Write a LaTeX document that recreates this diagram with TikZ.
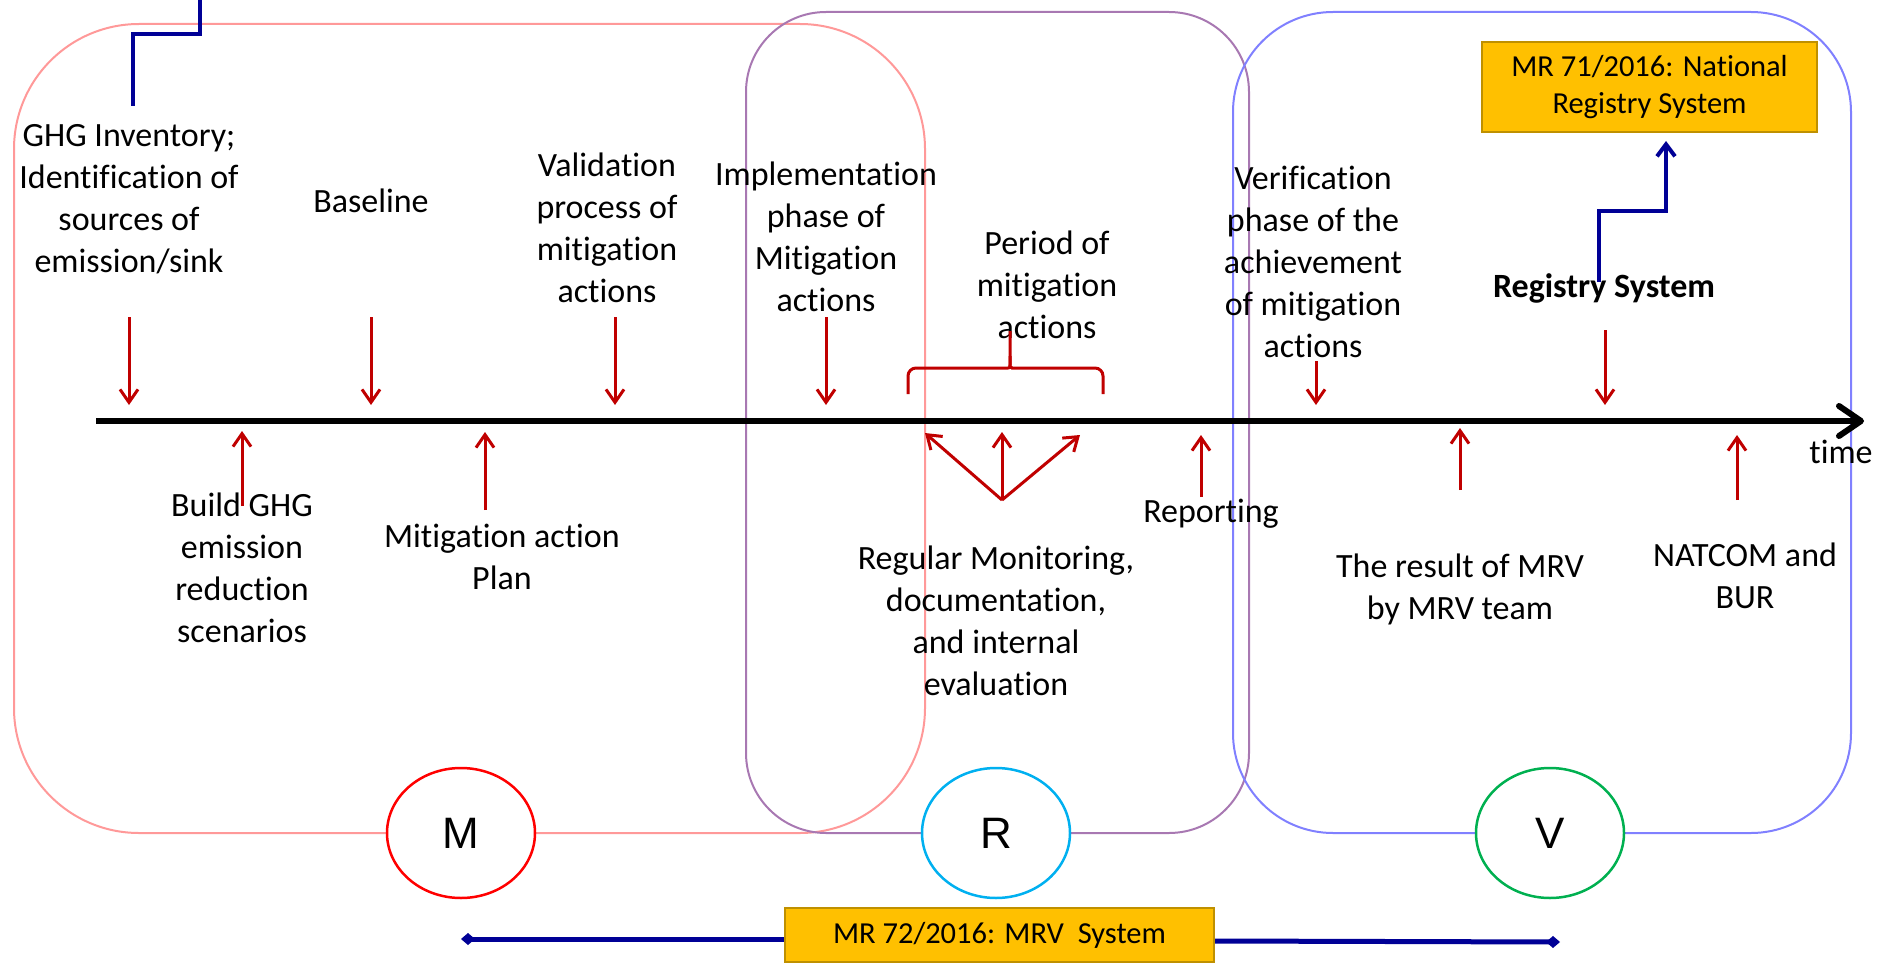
\documentclass[tikz,border=0pt]{standalone}
\usepackage{fontspec}
\setmainfont{Carlito}[RawFeature={-liga;-clig;-calt;-dlig}]
\newfontfamily\letterfont{Liberation Sans}
\usetikzlibrary{arrows.meta,shapes.geometric}

\definecolor{mline}{RGB}{255,153,153}
\definecolor{rline}{RGB}{168,120,178}
\definecolor{vline}{RGB}{128,128,255}
\definecolor{mring}{RGB}{255,0,0}
\definecolor{rring}{RGB}{0,176,240}
\definecolor{vring}{RGB}{0,176,80}
\definecolor{arrowred}{RGB}{192,0,0}
\definecolor{lawnavy}{RGB}{0,0,150}
\definecolor{lawfill}{RGB}{255,192,0}
\definecolor{lawedge}{RGB}{191,144,0}

\begin{document}
\begin{tikzpicture}[x=1pt,y=-1pt,
		every node/.style={inner sep=0pt,align=center,font=\fontsize{34}{42}\selectfont},
		phase/.style={line width=2pt,rounded corners=#1},
		redarrow/.style={draw=arrowred,line width=3pt,-{Straight Barb[length=13pt,width=18pt]}},
		navyline/.style={draw=lawnavy,line width=4pt},
		lawbox/.style={draw=lawedge,line width=2pt,fill=lawfill,font=\fontsize{30.5}{37.5}\selectfont},
		letter/.style={ellipse,line width=2.5pt,fill=white,minimum width=148pt,minimum height=130pt,font=\letterfont\fontsize{44}{44}\selectfont}]

		\useasboundingbox (0,0) rectangle (1891,963);

		% the three phase frames
		\draw[phase=125pt,mline] (14,24) rectangle (925,833);
		\draw[phase=80pt,rline] (746,12) rectangle (1249,833);
		\draw[phase=100pt,vline] (1233,12) rectangle (1851,833);

		% time line
		\draw[line width=6pt,-{Straight Barb[length=22pt,width=30pt,round]}] (96,421) -- (1864,421);
		\node (time) at (1841,452) {time};

		% labels above the line
		\node (ghg) at (129,199) {GHG Inventory;\\Identification of\\sources of\\emission/sink};
		\node (base) at (371,201) {Baseline};
		\node (valid) at (607,228) {Validation\\process of\\mitigation\\actions};
		\node (impl) at (826,237) {Implementation\\phase of\\Mitigation\\actions};
		\node (period) at (1047,285) {Period of\\mitigation\\actions};
		\node (verif) at (1313,262) {Verification\\phase of the\\achievement\\of mitigation\\actions};
		\node[font=\bfseries\fontsize{34}{42}\selectfont] (reg) at (1604,288) {Registry System};
		\node[lawbox,minimum width=335pt,minimum height=90pt] (mr71) at (1649.5,87) {MR 71/2016: National\\Registry System};

		% labels below the line
		\node (build) at (242,568) {Build GHG\\emission\\reduction\\scenarios};
		\node (plan) at (502,557) {Mitigation action\\Plan};
		\node (monitor) at (996,621) {Regular Monitoring,\\documentation,\\and internal\\evaluation};
		\node (report) at (1211,514) {Reporting};
		\node (result) at (1460,589) {The result of MRV\\by MRV team};
		\node (natcom) at (1745,576) {NATCOM and\\BUR};

		% arrow tips on the time line
		\coordinate (tGHG) at (129,405);
		\coordinate (tBase) at (371,405);
		\coordinate (tValid) at (615,405);
		\coordinate (tImpl) at (826,405);
		\coordinate (tVerif) at (1316,405);
		\coordinate (tReg) at (1605,405);
		\coordinate (tBuild) at (242,431);
		\coordinate (tPlan) at (485,432);
		\coordinate (tReport) at (1201,435);
		\coordinate (tResult) at (1460,428);
		\coordinate (tNatcom) at (1737,435);
		\coordinate (fan) at (1002,500);
		\coordinate (fanL) at (925,433);
		\coordinate (fanM) at (1002,432);
		\coordinate (fanR) at (1080,435);

		\draw[redarrow] (tGHG) ++(0,-88) -- (tGHG);
		\draw[redarrow] (tBase) ++(0,-88) -- (tBase);
		\draw[redarrow] (tValid) ++(0,-88) -- (tValid);
		\draw[redarrow] (tImpl) ++(0,-88) -- (tImpl);
		\draw[redarrow] (tVerif) ++(0,-44) -- (tVerif);
		\draw[redarrow] (tReg) ++(0,-75) -- (tReg);
		\draw[redarrow] (tBuild) ++(0,75) -- (tBuild);
		\draw[redarrow] (tPlan) ++(0,78) -- (tPlan);
		\draw[redarrow] (tReport) ++(0,62) -- (tReport);
		\draw[redarrow] (tResult) ++(0,62) -- (tResult);
		\draw[redarrow] (tNatcom) ++(0,65) -- (tNatcom);
		\draw[redarrow] (fan) -- (fanL);
		\draw[redarrow] (fan) -- (fanM);
		\draw[redarrow] (fan) -- (fanR);

		% brace over the monitoring period
		\draw[arrowred,line width=3pt,rounded corners=8pt] (908,394) |- (1000,368) .. controls (1010,368) .. (1010,356) -- (1010,331);
		\draw[arrowred,line width=3pt,rounded corners=8pt] (1103,394) |- (1020,368) .. controls (1010,368) .. (1010,356);

		% registry links
		\coordinate (regtail) at (1599,282);
		\coordinate (regbend) at (1666,211);
		\draw[navyline,-{Straight Barb[length=12pt,width=18pt]}] (regtail) |- (regbend) -- ([xshift=16.5pt,yshift=-8pt]mr71.south);
		\coordinate (ghgtail) at (133,106);
		\coordinate (ghgout) at (200,-4);
		\draw[navyline] (ghgtail) |- (166,34) -| (ghgout);

		% M R V rings
		\node[letter,draw=mring] (m) at (461,833) {M};
		\node[letter,draw=rring] (r) at (996,833) {R};
		\node[letter,draw=vring] (v) at (1550,833) {V};

		% MRV system law
		\node[lawbox,minimum width=429pt,minimum height=54pt] (mr72) at (999.5,935) {MR 72/2016: MRV\ \ System};
		\coordinate (lend) at (461,939);
		\coordinate (rend) at (1560,942);
		\draw[navyline,line width=5pt,-{Diamond[length=14pt,width=12pt]}] ([yshift=-4pt]mr72.west) -- (lend);
		\draw[navyline,line width=5pt,-{Diamond[length=14pt,width=12pt]}] ([yshift=-6pt]mr72.east) -- (rend);

\end{tikzpicture}
\end{document}
